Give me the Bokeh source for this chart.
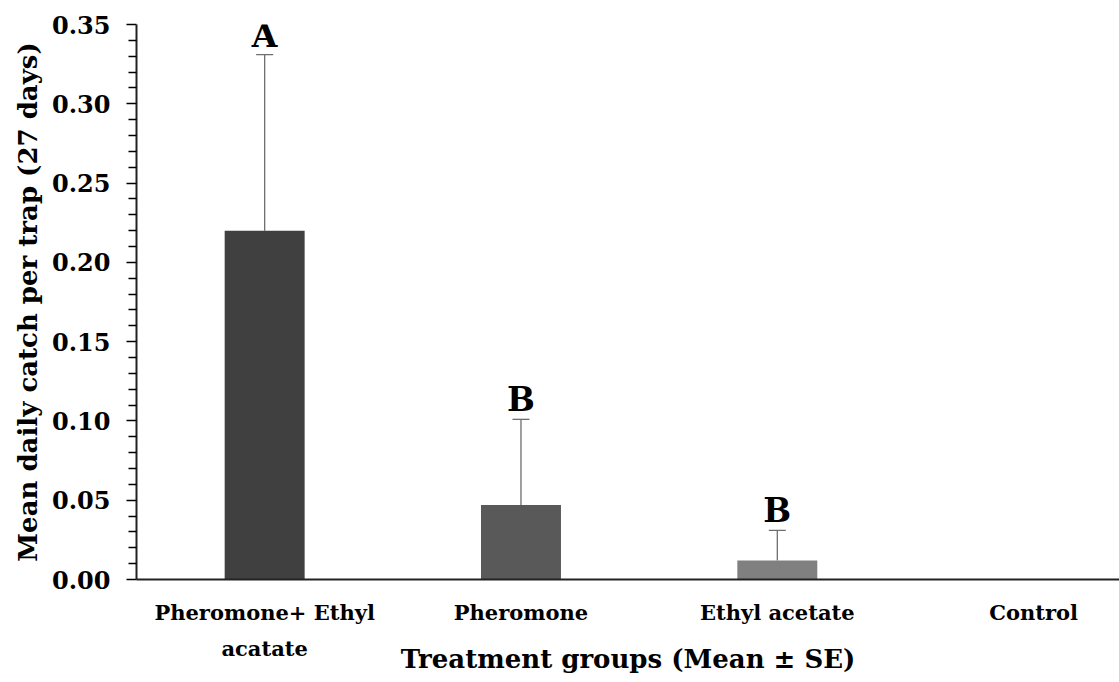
from bokeh.plotting import figure
from bokeh.models import (Range1d, FixedTicker, PrintfTickFormatter,
                          Whisker, TeeHead, ColumnDataSource)
from bokeh.core.properties import value
from bokeh.embed import file_html
from bokeh.resources import INLINE

categories = ["Pheromone+ Ethyl\nacatate", "Pheromone", "Ethyl acetate", "Control"]
means = [0.220, 0.047, 0.012, 0.0]
se = [0.111, 0.054, 0.019, 0.0]
letters = ["A", "B", "B", ""]
colors = ["#404040", "#595959", "#808080", "#a6a6a6"]
y_major = [0.00, 0.05, 0.10, 0.15, 0.20, 0.25, 0.30, 0.35]
y_minor = [0.01, 0.02, 0.03, 0.04, 0.06, 0.07, 0.08, 0.09, 0.11, 0.12, 0.13, 0.14,
           0.16, 0.17, 0.18, 0.19, 0.21, 0.22, 0.23, 0.24, 0.26, 0.27, 0.28, 0.29,
           0.31, 0.32, 0.33, 0.34]

FONT = "DejaVu Serif"

xs = list(range(len(categories)))

p = figure(frame_width=983, frame_height=555, x_range=Range1d(-0.5, 3.335), y_range=Range1d(0, 0.35),
           output_backend="svg", toolbar_location=None,
           min_border_left=136, min_border_right=0, min_border_top=24, min_border_bottom=0)
p.outline_line_color = None
p.xgrid.visible = False
p.ygrid.visible = False
p.background_fill_color = "white"
p.border_fill_color = "white"

bar_src = ColumnDataSource(dict(x=xs, top=means, color=colors))
p.vbar(x="x", top="top", width=0.312, bottom=0, fill_color="color", line_color=None, source=bar_src)

ex = [x for x, s in zip(xs, se) if s > 0]
elow = [m for m, s in zip(means, se) if s > 0]
eup = [m + s for m, s in zip(means, se) if s > 0]
elet = [l for l, s in zip(letters, se) if s > 0]
err_src = ColumnDataSource(dict(x=ex, lower=elow, upper=eup, letter=elet))
w = Whisker(base="x", lower="lower", upper="upper", source=err_src,
            line_color="#6e6e6e", line_width=1.3,
            upper_head=TeeHead(size=17, line_color="#6e6e6e", line_width=1.3), lower_head=None)
p.add_layout(w)

p.text(x="x", y="upper", text="letter", source=err_src, text_align="center", text_baseline="bottom",
       y_offset=0, text_font=value(FONT), text_font_style="bold", text_font_size="33px",
       text_color="black")

# Y axis
yax = p.yaxis[0]
yax.ticker = FixedTicker(ticks=y_major, minor_ticks=y_minor)
yax.formatter = PrintfTickFormatter(format="%.2f")
yax.axis_line_width = 2
yax.axis_line_color = "#222222"
yax.major_tick_out = 10
yax.major_tick_in = 0
yax.minor_tick_out = 8
yax.minor_tick_in = 0
yax.major_tick_line_width = 1.5
yax.minor_tick_line_width = 1.5
yax.major_label_text_font = FONT
yax.major_label_text_font_style = "bold"
yax.major_label_text_font_size = "24px"
yax.major_label_text_color = "black"
yax.major_label_standoff = 16
yax.axis_label = "Mean daily catch per trap (27 days)"
yax.axis_label_text_font = FONT
yax.axis_label_text_font_style = "bold"
yax.axis_label_text_font_size = "26px"
yax.axis_label_text_color = "black"
yax.axis_label_standoff = 6

# X axis
xax = p.xaxis[0]
xax.ticker = FixedTicker(ticks=xs)
xax.major_label_overrides = {i: c for i, c in zip(xs, categories)}
xax.axis_line_width = 2
xax.axis_line_color = "#222222"
xax.major_tick_out = 0
xax.major_tick_in = 0
xax.minor_tick_line_color = None
xax.major_label_text_font = FONT
xax.major_label_text_font_style = "bold"
xax.major_label_text_font_size = "21px"
xax.major_label_text_line_height = 1.45
xax.major_label_text_color = "black"
xax.major_label_standoff = 20
xax.axis_label = "Treatment groups (Mean ± SE)"
xax.axis_label_text_font = FONT
xax.axis_label_text_font_style = "bold"
xax.axis_label_text_font_size = "26px"
xax.axis_label_text_color = "black"
xax.axis_label_standoff = -20

open("out.html", "w").write(file_html(p, INLINE))
